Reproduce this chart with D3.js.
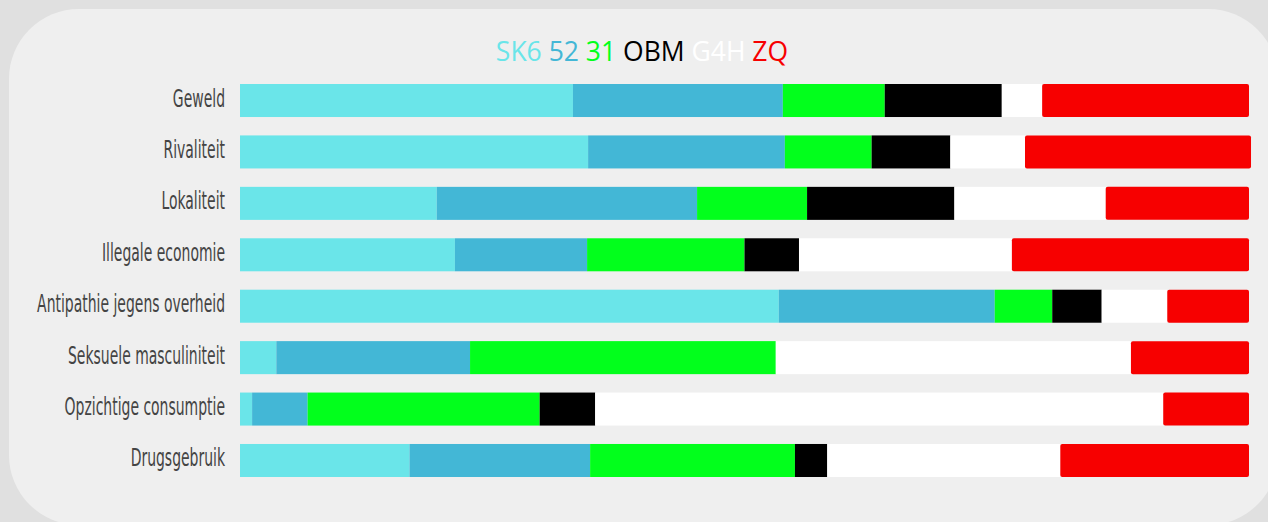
<!DOCTYPE html>
<html>
<head>
<meta charset="utf-8">
<script src="https://cdn.jsdelivr.net/npm/d3@7"></script>
<style>
  body { margin: 0; background: #e0e0e0; }
  svg { display: block; }
</style>
</head>
<body>
<div id="chart"></div>
<script>
// categories (top to bottom) and the six series, in percent of each bar
var categories = ["Geweld", "Rivaliteit", "Lokaliteit", "Illegale economie",
  "Antipathie jegens overheid", "Seksuele masculiniteit", "Opzichtige consumptie", "Drugsgebruik"];
var seriesNames = ["SK6", "52", "31", "OBM", "G4H", "ZQ"];
var seriesColors = ["#6ae5e9", "#43b7d6", "#02ff1c", "#000000", "#ffffff", "#f70000"];

var sk6 = [33.0, 34.5, 19.5, 21.3, 53.4, 3.6, 1.2, 16.8];
var s52 = [20.8, 19.5, 25.8, 13.1, 21.4, 19.2, 5.5, 17.9];
var s31 = [10.1, 8.6, 10.9, 15.6, 5.7, 30.3, 23.0, 20.3];
var obm = [11.6, 7.8, 14.6, 5.4, 4.9, 0.0, 5.5, 3.2];
var g4h = [4.0, 7.4, 15.0, 21.1, 6.5, 35.2, 56.3, 23.1];
var zq  = [20.5, 22.4, 14.2, 23.5, 8.1, 11.7, 8.5, 18.7];

var seriesValues = [sk6, s52, s31, obm, g4h, zq];

var width = 1268, height = 522;

var svg = d3.select("#chart")
  .append("svg")
  .attr("width", width)
  .attr("height", height);

// rounded card behind the chart
svg.append("rect")
  .attr("x", 9)
  .attr("y", 9)
  .attr("width", 1269)
  .attr("height", 516)
  .attr("rx", 70)
  .attr("fill", "#efefef");

// build rows for d3.stack
var rows = categories.map(function(c, i) {
  var r = { name: c };
  seriesNames.forEach(function(s, j) { r[s] = seriesValues[j][i]; });
  return r;
});

var stacked = d3.stack().keys(seriesNames)(rows);

var x = d3.scaleLinear()
  .domain([0, 100])
  .range([240, 1249]);

var y = d3.scaleBand()
  .domain(categories)
  .range([74.8, 486.2])
  .paddingInner(0.358)
  .paddingOuter(0.179);

// bars
var layer = svg.selectAll("g.layer")
  .data(stacked)
  .enter()
  .append("g")
  .attr("class", "layer")
  .attr("fill", function(d, i) { return seriesColors[i]; });

layer.selectAll("rect")
  .data(function(d) { return d; })
  .enter()
  .append("rect")
  .attr("x", function(d) { return x(d[0]); })
  .attr("y", function(d) { return y(d.data.name); })
  .attr("width", function(d) { return Math.max(0, x(d[1]) - x(d[0])); })
  .attr("height", y.bandwidth())
  .attr("rx", function() {
    return d3.select(this.parentNode).datum().key === "ZQ" ? 2 : 0;
  });

// category labels (condensed look: squeeze horizontally)
var labels = svg.append("g")
  .selectAll("text")
  .data(categories)
  .enter()
  .append("text")
  .attr("text-anchor", "end")
  .style("font-family", "'Liberation Sans Narrow', 'DejaVu Sans Condensed', sans-serif")
  .style("font-size", "25px")
  .style("fill", "#444444")
  .text(function(d) { return d; });

var longest = d3.max(labels.nodes(), function(n) { return n.getComputedTextLength(); });
var squeeze = 188 / longest;

labels.attr("transform", function(d) {
  return "translate(225," + (y(d) + y.bandwidth() / 2 + 6) + ") scale(" + squeeze + ",1)";
});

// legend line at the top
var legend = svg.append("text")
  .attr("x", 642)
  .attr("y", 61)
  .attr("text-anchor", "middle")
  .style("font-family", "'Open Sans', sans-serif")
  .style("font-size", "26.5px");

seriesNames.forEach(function(s, i) {
  legend.append("tspan")
    .attr("fill", seriesColors[i])
    .text(s + (i < seriesNames.length - 1 ? " " : ""));
});
</script>
</body>
</html>
